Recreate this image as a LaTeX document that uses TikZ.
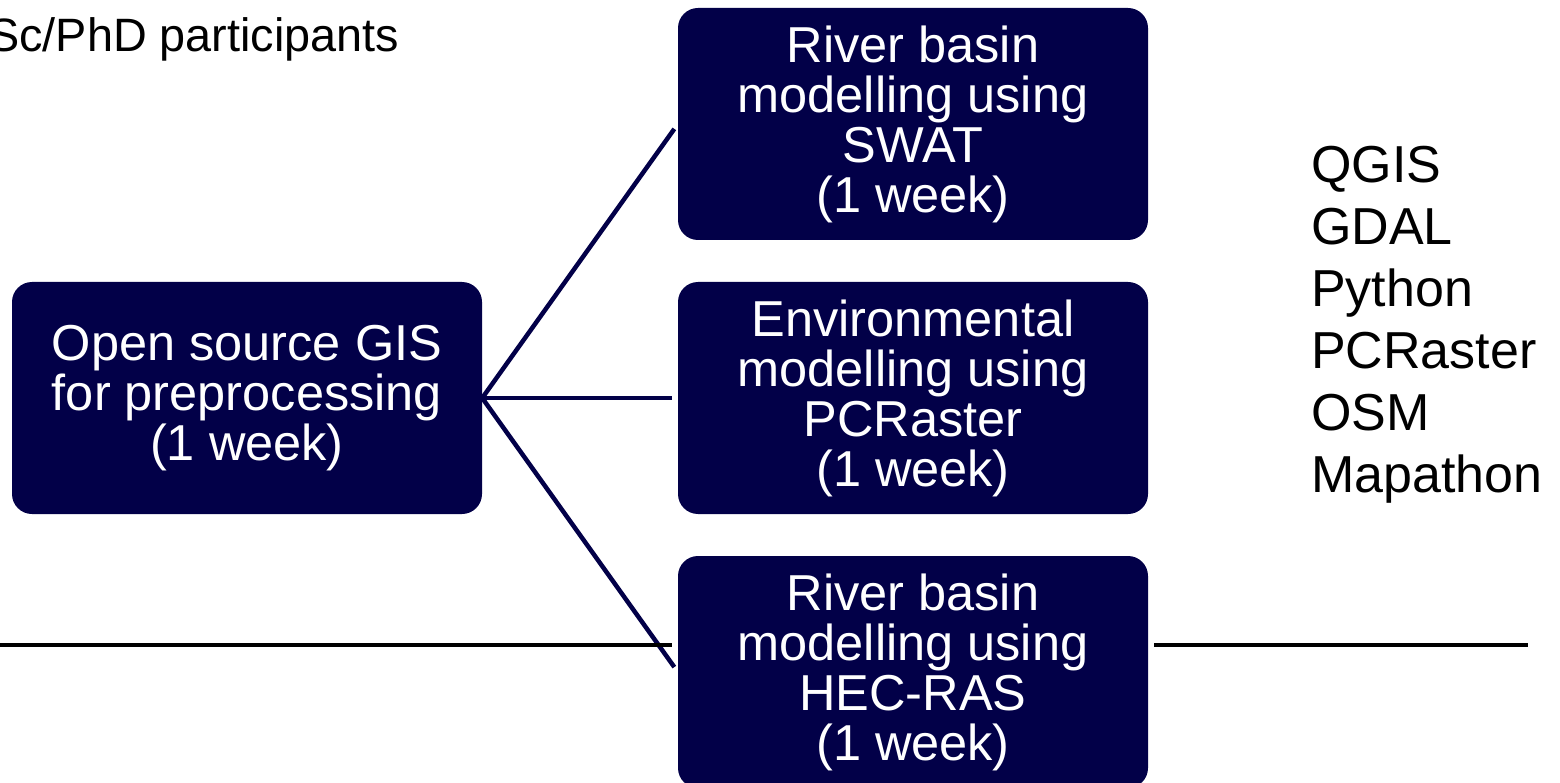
\documentclass[tikz,border=0pt]{standalone}
\usepackage{fontspec}
\setmainfont{Liberation Sans}
\definecolor{navy}{RGB}{2,0,72}
\begin{document}
\begin{tikzpicture}[x=1pt,y=-1pt,
  box/.style={draw=none,fill=navy,rounded corners=20pt,minimum width=470pt,minimum height=232pt,
    inner sep=0pt,align=center,text=white,font=\fontsize{50.5}{50}\selectfont},
  link/.style={draw=navy,line width=4.5pt,shorten >=6pt},
  rule/.style={draw=black,line width=4pt}]
\useasboundingbox (0,0) rectangle (1560,783);
\node[anchor=base west,inner sep=0pt,font=\fontsize{46.8}{46}\selectfont] (hdr) at (-12,52) {Sc/PhD participants};
\node[box] (L) at (247,398) {Open source GIS\\for preprocessing\\(1 week)};
\node[box] (T) at (913,124) {River basin\\modelling using\\SWAT\\(1 week)};
\node[box] (M) at (913,398) {Environmental\\modelling using\\PCRaster\\(1 week)};
\node[box] (B) at (913,672) {River basin\\modelling using\\HEC-RAS\\(1 week)};
\node[anchor=north west,inner sep=0pt,align=left,font=\fontsize{52}{62}\selectfont] (tools) at (1311,146)
  {QGIS\\GDAL\\Python\\PCRaster\\OSM\\Mapathon};
\draw[link] (L.east) -- (T.west);
\draw[link] (L.east) -- (M.west);
\draw[link] (L.east) -- (B.west);
\coordinate (hl) at (0,645);
\coordinate (hr) at (1528,645);
\draw[rule,shorten >=6pt] (hl) -- (B.west |- hl);
\draw[rule,shorten <=6pt] (B.east |- hr) -- (hr);
\end{tikzpicture}
\end{document}
